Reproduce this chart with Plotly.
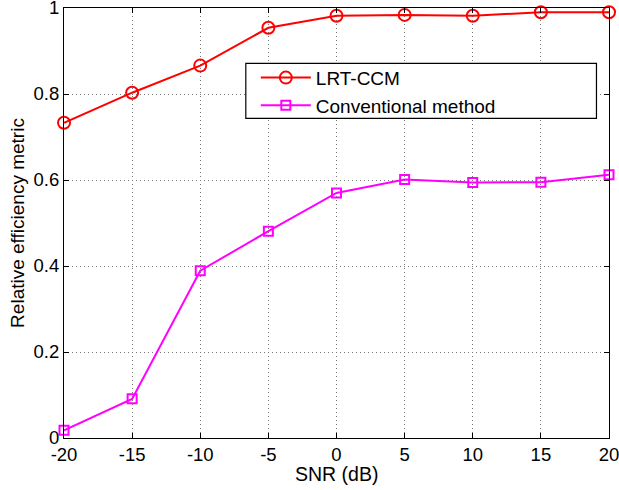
import plotly.graph_objects as go

snr = [-20, -15, -10, -5, 0, 5, 10, 15, 20]
lrt_ccm = [0.733, 0.803, 0.866, 0.954, 0.982, 0.984, 0.982, 0.990, 0.990]
conventional = [0.018, 0.091, 0.389, 0.481, 0.570, 0.601, 0.594, 0.595, 0.612]

x_ticks = [-20, -15, -10, -5, 0, 5, 10, 15, 20]
x_tick_labels = ["-20", "-15", "-10", "-5", "0", "5", "10", "15", "20"]
y_ticks = [0, 0.2, 0.4, 0.6, 0.8, 1]
y_tick_labels = ["0", "0.2", "0.4", "0.6", "0.8", "1"]

fig = go.Figure()
fig.add_trace(go.Scatter(
    x=snr, y=lrt_ccm, mode="lines+markers", name="LRT-CCM",
    line=dict(color="#ff0000", width=2),
    marker=dict(symbol="circle-open", size=12, color="#ff0000", line=dict(width=2)),
    cliponaxis=False,
))
fig.add_trace(go.Scatter(
    x=snr, y=conventional, mode="lines+markers", name="Conventional method",
    line=dict(color="#ff00ff", width=2),
    marker=dict(symbol="square-open", size=9, color="#ff00ff", line=dict(width=2)),
    cliponaxis=False,
))

font_family = "Liberation Sans, Arial, Helvetica, sans-serif"
axis_common = dict(
    showgrid=True, gridcolor="#777777", griddash="1px,3px", gridwidth=1,
    showline=True, linecolor="black", linewidth=1.2, mirror="ticks",
    ticks="inside", ticklen=5, tickcolor="black", zeroline=False,
    tickfont=dict(size=18.5, color="black", family=font_family),
    automargin=False, ticklabeloverflow="allow",
)

# legend frame (MATLAB-style wide box)
fig.add_shape(type="rect", xref="paper", yref="paper",
              x0=0.3336, x1=0.977, y0=0.7435, y1=0.8714,
              line=dict(color="black", width=1.2), fillcolor="white", layer="above")

# x-axis title as annotation for precise placement
fig.add_annotation(text="SNR (dB)", xref="paper", yref="paper",
                   x=0.5, y=(438 - 474) / 430, xanchor="center", yanchor="middle",
                   showarrow=False, font=dict(size=19.5, family=font_family, color="black"))

fig.update_layout(
    width=619, height=490,
    margin=dict(l=64, r=10, t=8, b=52),
    paper_bgcolor="white", plot_bgcolor="white",
    font=dict(family=font_family, color="black", size=19),
    xaxis=dict(range=[-20, 20], tickvals=x_ticks, ticktext=x_tick_labels,
               **axis_common),
    yaxis=dict(range=[0, 1], tickvals=y_ticks, ticktext=y_tick_labels,
               title=dict(text="Relative efficiency metric", font=dict(size=19), standoff=3),
               **axis_common),
    legend=dict(x=(256 - 64) / 545.5, y=0.882, xanchor="left", yanchor="top",
                bgcolor="rgba(0,0,0,0)", borderwidth=0, itemwidth=50,
                font=dict(size=19, family=font_family), tracegroupgap=0),
    showlegend=True,
)

fig.write_html("out.html", config={"displayModeBar": False},
               post_script="document.body.style.margin='0px';")
